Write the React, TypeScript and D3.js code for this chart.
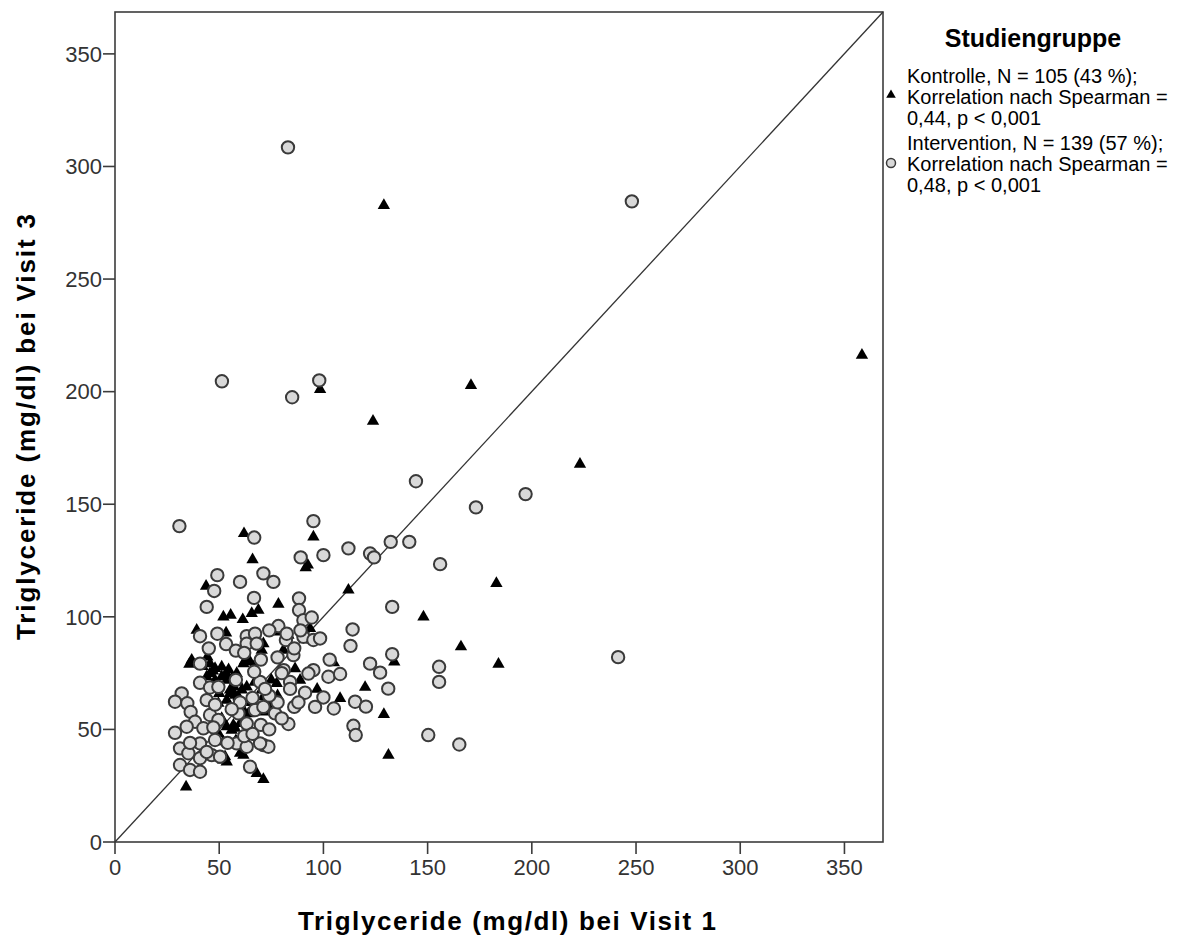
import React from 'react';
import * as d3 from 'd3';

// Kontrolle (triangles): Triglyceride at Visit 1 / Visit 3
const kontrolleVisit1 = [129, 170.8, 98.4, 123.8, 223.1, 358.4, 61.9, 66, 95.2, 91.5, 92.5, 183, 112, 148, 78.4, 93.6, 166, 80.8, 134, 184, 105, 120, 97, 108, 129, 131.2, 71.2, 43.7, 52, 55.5, 61.3, 65.6, 68.8, 39.2, 53.3, 79.2, 35.7, 44.3, 48, 51.2, 53.3, 56, 58.4, 61.6, 64.8, 66.4, 55.2, 57.6, 60.8, 63.2, 49.6, 53.6, 56.8, 60, 52.8, 61.6, 34.1, 68, 75, 78, 68.8, 70.4, 62.4, 86.4, 88.8, 59, 57, 70.4, 71.2, 77.6, 60, 61.6, 73.6, 72, 36.8, 45.6, 47, 54.5, 44, 45.6, 48, 51.2, 53.6, 55.2, 53.6, 59.2, 44, 45.6, 56, 57.6, 52, 52, 53.6, 60, 49.6, 51.2, 83.2, 94.4, 71.2, 64, 67, 50, 42, 58, 64];
const kontrolleVisit3 = [282.7, 202.8, 201, 186.9, 167.8, 216.2, 137, 125.4, 135.5, 121.8, 123, 114.8, 111.9, 100, 105.6, 94.8, 86.7, 85.2, 80, 79, 79.6, 68.7, 67.9, 63.8, 56.7, 38.6, 27.8, 113.6, 100, 100.7, 98.8, 101.5, 103, 94.1, 92.9, 93.3, 79, 82.2, 77.1, 77.8, 74.9, 72.6, 74.9, 79.2, 80, 77.8, 67.5, 65.2, 67.5, 68.9, 61.6, 51.2, 51.9, 52.6, 37.9, 38.6, 24.5, 30.5, 72, 65, 88.1, 85.2, 80.5, 77, 71.9, 71, 69, 67.5, 64.5, 70.4, 61.6, 58.6, 60.8, 57.8, 80.8, 79.2, 76, 76.5, 73.4, 74.9, 71.9, 73.4, 71.9, 66, 63, 64.5, 63.7, 62.3, 49.7, 50.5, 44.5, 36.4, 35.6, 39.4, 48.2, 54.9, 91.9, 89.7, 88.1, 57, 71, 66, 78, 45, 62];

// Intervention (circles)
const interventionVisit1 = [83, 248, 51.3, 85, 98, 30.9, 144.4, 197, 173.2, 241.4, 150.3, 165.2, 156, 133, 141.2, 132.3, 122.4, 124.3, 112, 114, 113, 133, 95.2, 100, 89.1, 71.2, 76, 88.3, 88.3, 90.4, 94.4, 90.4, 95.2, 98.4, 78.4, 82, 85.6, 155.5, 155.5, 122.4, 127.2, 95.2, 92.8, 102.4, 108, 81, 84, 131.1, 91.2, 100, 105, 115.2, 120.4, 114.4, 115.5, 83.2, 69.6, 76.8, 80, 71.2, 73.6, 66.8, 49.1, 47.6, 60, 66.7, 44, 40.8, 49.1, 63.2, 67.2, 53.3, 63.2, 68, 82.4, 40.8, 66.8, 40.8, 45.6, 49.6, 44, 32, 28.8, 34.7, 36.3, 45.6, 49.6, 38.4, 34.4, 28.8, 42.4, 47.2, 59.2, 63.2, 67.2, 71.2, 78, 74, 86, 48, 40.8, 31.2, 35.2, 40.8, 46.4, 50.4, 58.4, 63.2, 69.6, 31.2, 36, 40.8, 64.8, 80, 84, 72, 88, 96, 60, 56, 66, 70, 74, 54, 62, 78, 86, 74, 58, 45, 36, 44, 66, 58, 62, 89, 70, 103, 48];
const interventionVisit3 = [308.5, 284.5, 204.6, 197.5, 205, 140.3, 160.2, 154.5, 148.6, 82.1, 47.5, 43.3, 123.4, 104.4, 133.3, 133.3, 128.1, 126.4, 130.4, 94.4, 87.1, 83.4, 142.5, 127.4, 126.4, 119.3, 115.5, 108.2, 103, 98.5, 99.7, 91.1, 89.7, 90.4, 95.9, 89.7, 83, 77.8, 71.1, 79.2, 75.2, 76.3, 74.8, 73.4, 74.6, 76.3, 71.1, 68.1, 66.3, 64.2, 59.3, 62.3, 60.1, 51.6, 47.5, 52.4, 71.1, 57.1, 54.9, 43, 42.3, 135.2, 118.5, 111.5, 115.5, 108.4, 104.4, 91.4, 92.5, 91.4, 92.5, 87.9, 88.1, 88.1, 92.5, 79.2, 75.6, 70.7, 68.6, 68.9, 63, 66, 62.3, 61.6, 57.8, 56.4, 54.2, 53.4, 51.2, 48.5, 50.5, 50.9, 57.1, 52.6, 58.6, 60, 62, 65, 60, 45.3, 43.8, 41.6, 39.4, 37.2, 38.6, 37.9, 43.8, 42.3, 43.8, 34.2, 32, 31.2, 33.4, 75, 68, 68, 62, 60, 62, 59, 64, 52, 50, 44, 47, 82, 86, 94, 85, 86, 44, 40, 48, 72, 84, 94, 81, 81, 61];

const axisTicks = [0, 50, 100, 150, 200, 250, 300, 350];
const xTitle = 'Triglyceride (mg/dl) bei Visit 1';
const yTitle = 'Triglyceride (mg/dl) bei Visit 3';
const legendTitle = 'Studiengruppe';
const kontrolleLines = ['Kontrolle, N = 105 (43 %);', 'Korrelation nach Spearman =', '0,44, p < 0,001'];
const interventionLines = ['Intervention, N = 139 (57 %);', 'Korrelation nach Spearman =', '0,48, p < 0,001'];

const FONT = '"Liberation Sans", Arial, sans-serif';

export default function App() {
  const W = 1185, H = 941;
  const left = 115, right = 883, top = 12, bottom = 842;
  const x = d3.scaleLinear().domain([0, 368.5]).range([left, right]);
  const y = d3.scaleLinear().domain([0, 368.6]).range([bottom, top]);
  const triPath = d3.symbol().type(d3.symbolTriangle).size(66)() as string;
  const triLegend = d3.symbol().type(d3.symbolTriangle).size(40)() as string;
  const axisColor = '#3c3c3c';
  const tickLen = 12;

  const kData = kontrolleVisit1.map((v, i) => [v, kontrolleVisit3[i]]);
  const iData = interventionVisit1.map((v, i) => [v, interventionVisit3[i]]);

  return (
    <svg width={W} height={H} style={{ position: 'absolute', left: 0, top: 0, background: '#fff' }} fontFamily={FONT}>
      <rect x={0} y={0} width={W} height={H} fill="#fff" />
      {/* frame */}
      <rect x={left} y={top} width={right - left} height={bottom - top} fill="none" stroke={axisColor} strokeWidth={1.6} />
      {/* diagonal */}
      <line x1={x(0)} y1={y(0)} x2={x(368.5)} y2={y(368.6)} stroke="#333" strokeWidth={1.3} />
      {/* x ticks */}
      {axisTicks.map(t => (
        <g key={'x' + t}>
          <line x1={x(t)} x2={x(t)} y1={bottom} y2={bottom + tickLen} stroke={axisColor} strokeWidth={1.6} />
          <text x={x(t)} y={bottom + 33} textAnchor="middle" fontSize={22} fill="#333">{t}</text>
        </g>
      ))}
      {/* y ticks */}
      {axisTicks.map(t => (
        <g key={'y' + t}>
          <line x1={left - tickLen} x2={left} y1={y(t)} y2={y(t)} stroke={axisColor} strokeWidth={1.6} />
          <text x={left - tickLen - 1} y={y(t)} dy="0.35em" textAnchor="end" fontSize={22} fill="#333">{t}</text>
        </g>
      ))}
      {/* points */}
      {kData.map((d, i) => (
        <path key={'k' + i} d={triPath} transform={`translate(${x(d[0])},${y(d[1])})`} fill="#000" />
      ))}
      {iData.map((d, i) => (
        <circle key={'i' + i} cx={x(d[0])} cy={y(d[1])} r={6.2} fill="#d9d9d9" stroke="#3a3a3a" strokeWidth={2} />
      ))}
      {/* axis titles */}
      <text x={507} y={930} textAnchor="middle" fontSize={26} fontWeight="bold" fill="#000" textLength={418} lengthAdjust="spacing">{xTitle}</text>
      <text transform={`translate(35,${(top + bottom) / 2}) rotate(-90)`} textAnchor="middle" fontSize={26} fontWeight="bold" fill="#000" textLength={426} lengthAdjust="spacing">{yTitle}</text>
      {/* legend */}
      <text x={1033} y={38} dy="0.35em" textAnchor="middle" fontSize={25} fontWeight="bold" fill="#000">{legendTitle}</text>
      {kontrolleLines.map((s, i) => (
        <text key={'kl' + i} x={907} y={76 + i * 21} dy="0.35em" fontSize={20} fill="#000">{s}</text>
      ))}
      <path d={triLegend} transform={`translate(891,${95})`} fill="#000" />
      {interventionLines.map((s, i) => (
        <text key={'il' + i} x={907} y={143 + i * 21} dy="0.35em" fontSize={20} fill="#000">{s}</text>
      ))}
      <circle cx={891} cy={163} r={4.5} fill="#d9d9d9" stroke="#3a3a3a" strokeWidth={1.5} />
    </svg>
  );
}
